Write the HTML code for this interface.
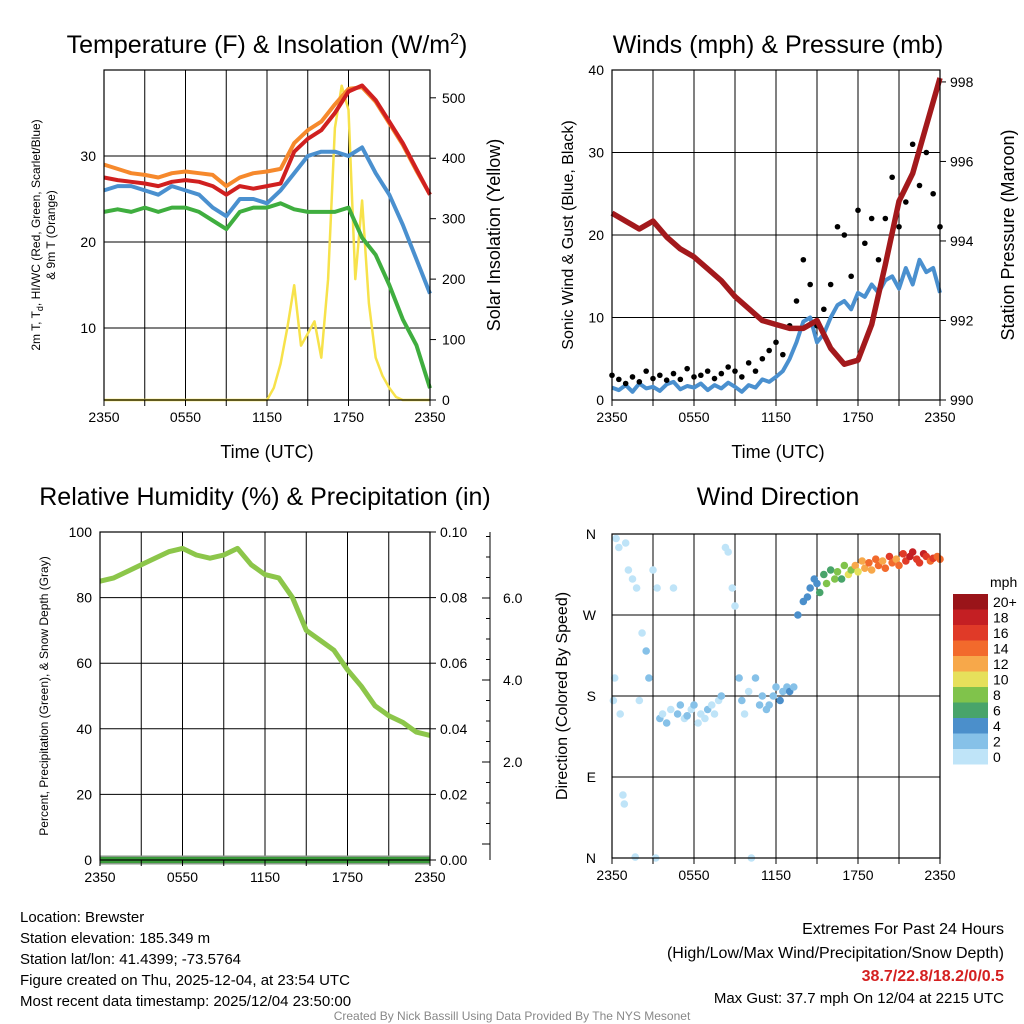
<!DOCTYPE html>
<html><head><meta charset="utf-8"><style>
body{margin:0;background:#fff;}
svg{display:block;font-family:"Liberation Sans",sans-serif;}
</style></head><body>
<svg id="c" width="1024" height="1024" viewBox="0 0 1024 1024"></svg>
<script>
// ---------- data ----------
const hours = [0,1,2,3,4,5,6,7,8,9,10,11,12,13,14,15,16,17,18,19,20,21,22,23,24];
const tempRed = [27.5,27.2,27,26.8,26.5,27,27.2,27,26.5,25.5,26.5,26.2,26.5,26.8,30.5,32,33,35,37.5,38.2,36.5,34,31.5,28.5,25.5];
const temp9m = [29,28.5,28,27.8,27.5,28,28.2,28,27.8,26.5,27.5,28,28.2,28.5,31.5,33,34,36,37.8,38,36.3,33.8,31.3,28.3,25.5];
const windChill = [26,26.5,26.5,26,25.5,26.5,26,25.5,24,23,25,25,24.5,26,28,30,30.5,30.5,30,31,28,25.5,22,18,14];
const dewpoint = [23.5,23.8,23.5,24,23.5,24,24,23.5,22.5,21.5,23.5,24,24,24.5,23.8,23.5,23.5,23.5,24,20.5,18.5,15,11,8,3];
const halfHours = Array.from({length:49},(_,i)=>i/2);
const insolation = [0,0,0,0,0,0,0,0,0,0,0,0,0,0,0,0,0,0,0,0,0,0,0,0,0,20,60,120,190,90,110,130,70,200,450,520,480,200,330,160,70,40,20,5,0,0,0,0,0];
const windSpeed = [1.5,1.2,1.8,1.0,2.0,1.4,1.6,1.1,1.9,2.2,1.3,1.7,1.5,2.0,1.2,1.8,1.4,2.1,1.6,1.0,1.8,1.5,2.5,2.2,2.8,3.5,5,7,9.5,10,7,8,10,11.5,12,11,13,12.5,14,13,14.5,15,13.5,16,14,17,15.5,16,13];
const windGust = [3,2.5,2,2.8,2.2,3.5,2.6,3,2.4,3.2,2.5,3.8,2.8,3,3.5,2.6,3.2,4,3.5,2.8,4.5,3.5,5,6,7,5.5,9,12,17,14,9,11,14,21,20,15,23,19,22,17,22,27,21,24,31,26,30,25,21];
const pressure = [994.7,994.5,994.3,994.5,994.1,993.8,993.6,993.3,993.0,992.6,992.3,992.0,991.9,991.8,991.8,992.0,991.3,990.9,991.0,991.9,993.4,995.0,995.7,996.9,998.1];
const rh = [85,86,88,90,92,94,95,93,92,93,95,90,87,86,80,70,67,64,58,53,47,44,42,39,38];
const precip = [0,0,0,0,0,0,0,0,0,0,0,0,0,0,0,0,0,0,0,0,0,0,0,0,0];
const dirTime = [0.1,0.2,0.3,0.5,0.6,0.8,0.9,1.0,1.2,1.5,1.7,1.8,2.0,2.2,2.5,2.7,3.0,3.2,3.3,3.5,3.7,4.0,4.3,4.5,4.8,5.0,5.3,5.5,5.8,6.0,6.3,6.5,6.8,7.0,7.3,7.5,7.8,8.0,8.3,8.5,8.8,9.0,9.3,9.5,9.7,10.0,10.2,10.5,10.8,11.0,11.3,11.5,11.8,12.0,12.3,12.5,12.8,13.0,13.3,13.6,14.0,14.3,14.5,14.8,15.0,15.2,15.5,15.7,16.0,16.3,16.5,16.8,17.0,17.3,17.5,17.8,18.0,18.3,18.5,18.8,19.0,19.3,19.5,19.8,20.0,20.3,20.5,20.8,21.0,21.3,21.5,21.8,22.0,22.3,22.5,22.8,23.0,23.3,23.5,23.8,24.0];
const dirDeg = [175,200,355,345,160,70,60,350,320,310,1,300,175,250,230,200,320,0,300,155,160,150,165,300,160,170,155,158,165,170,150,160,155,165,170,160,175,180,345,340,300,280,200,175,160,185,0,200,170,180,165,170,180,190,175,185,190,185,190,270,285,290,300,310,305,295,315,305,320,310,318,310,325,315,320,325,318,330,322,328,320,332,325,330,322,335,328,332,325,338,330,335,340,332,328,338,335,330,333,335,332];
const dirSpeed = [1,1,0.5,1,0.5,1,1,0.5,1,0.5,0.5,1,1,0.5,2,3,1,0.5,0.5,2,1,3,1,1,2,2,1,3,1,2,1,0.5,1,2,1,1,1,2,1,0.5,1,1,2,3,1,1,0.5,3,2,3,3,3,2,3,4,3,3,4,3,4,4,5,5,4,5,6,6,8,7,9,8,7,9,10,8,12,11,13,12,14,13,14,15,12,14,16,15,13,15,16,17,18,19,17,16,18,17,15,16,14,15];
const speedBins = ["0","2","4","6","8","10","12","14","16","18","20+"];
const binColors = ["#bfe4f8","#86c1e8","#4b8fcb","#48a46a","#80c34b","#e6e05b","#f7a84a","#f26a2c","#e03a28","#c41f23","#9a1419"];
const timeTicks = ["2350","0550","1150","1750","2350"];

const NS="http://www.w3.org/2000/svg";
const svg=document.getElementById('c');
function el(tag,attrs,parent){const e=document.createElementNS(NS,tag);for(const k in attrs)e.setAttribute(k,attrs[k]);(parent||svg).appendChild(e);return e;}
function txt(x,y,s,size,anchor,extra){const e=el('text',Object.assign({x:x,y:y,'font-size':size,'text-anchor':anchor||'middle',fill:'#000'},extra||{}));e.textContent=s;return e;}
function lin(d0,d1,p0,p1){return v=>p0+(v-d0)/(d1-d0)*(p1-p0);}
function pathFrom(xs,ys,fx,fy){return xs.map((t,i)=>(i?'L':'M')+fx(t).toFixed(1)+','+fy(ys[i]).toFixed(1)).join('');}

function frame(name,x0,y0,x1,y1){
  const g=el('g',{});
  
  
  for(let i=1;i<8;i++){const x=x0+(x1-x0)*i/8;el('line',{x1:x,y1:y0,x2:x,y2:y1,stroke:'#000','stroke-width':1},g);}
  return g;
}
function border(name,x0,y0,x1,y1){const r=el('rect',{x:x0,y:y0,width:x1-x0,height:y1-y0,fill:'none',stroke:'#000','stroke-width':1.2});}
function xaxis(x0,x1,yb){
  const fx=lin(0,24,x0,x1);
  timeTicks.forEach((s,i)=>{const t=txt(fx(i*6),yb+22,s,14);});
  for(let i=0;i<=8;i++){el('line',{x1:fx(i*3),y1:yb,x2:fx(i*3),y2:yb+6,stroke:'#000'});}
}

// ---------- Panel 1 ----------
(function(){
  const x0=104,x1=430,y0=70,y1=400;
  const fx=lin(0,24,x0,x1), fy=lin(0,40,414,70), fs=lin(0,546,400,70);
  frame('temperature',x0,y0,x1,y1);
  [10,20,30].forEach(v=>{el('line',{x1:x0,y1:fy(v),x2:x1,y2:fy(v),stroke:'#000'});const t=txt(x0-8,fy(v)+5,String(v),14,'end');});
  [0,100,200,300,400,500].forEach(v=>{el('line',{x1:x1,y1:fs(v),x2:x1+6,y2:fs(v),stroke:'#000'});const t=txt(x1+12,fs(v)+5,String(v),14,'start');});
  const series=[[insolation,'#f7e24a','insolation-line',halfHours,fs,2.5],[dewpoint,'#3fae3f','dewpoint-line',hours,fy,4],[windChill,'#4a90cf','windchill-line',hours,fy,4],[temp9m,'#f6892c','temp-9m-line',hours,fy,4],[tempRed,'#d02020','temp-2m-line',hours,fy,4]];
  series.forEach(s=>{const p=el('path',{d:pathFrom(s[3],s[0],fx,s[4]),fill:'none',stroke:s[1],'stroke-width':s[5],'stroke-linejoin':'round'});});
  border('temperature',x0,y0,x1,y1);
  xaxis(x0,x1,y1);
  let t=txt(267,53,'',25);
  t.innerHTML='Temperature (F) &amp; Insolation (W/m<tspan dy="-9" font-size="16">2</tspan><tspan dy="9">)</tspan>';
  t=txt(267,458,'Time (UTC)',18);
  t=txt(0,0,'',12,'middle',{transform:'translate(40,235) rotate(-90)'});
  t.innerHTML='2m T, T<tspan dy="3" font-size="9">d</tspan><tspan dy="-3">, HI/WC (Red, Green, Scarlet/Blue)</tspan>';
  t=txt(0,0,'& 9m T (Orange)',12,'middle',{transform:'translate(55,235) rotate(-90)'});
  t=txt(0,0,'Solar Insolation (Yellow)',18,'middle',{transform:'translate(500,235) rotate(-90)'});
})();

// ---------- Panel 2 ----------
(function(){
  const x0=612,x1=940,y0=70,y1=400;
  const fx=lin(0,24,x0,x1), fy=lin(0,40,400,70), fp=lin(990,998.3,400,70);
  frame('winds',x0,y0,x1,y1);
  [10,20,30].forEach(v=>el('line',{x1:x0,y1:fy(v),x2:x1,y2:fy(v),stroke:'#000'}));
  [0,10,20,30,40].forEach(v=>{const t=txt(x0-8,fy(v)+5,String(v),14,'end');});
  [990,992,994,996,998].forEach(v=>{el('line',{x1:x1,y1:fp(v),x2:x1+6,y2:fp(v),stroke:'#000'});const t=txt(x1+10,fp(v)+5,String(v),14,'start');});
  let p=el('path',{d:pathFrom(halfHours,windSpeed,fx,fy),fill:'none',stroke:'#4a90cf','stroke-width':4,'stroke-linejoin':'round'});
  
  
  halfHours.forEach((t,i)=>{const c=el('circle',{cx:fx(t),cy:fy(windGust[i]),r:2.8,fill:'#000'});
    
    });
  p=el('path',{d:pathFrom(hours,pressure,fx,fp),fill:'none',stroke:'#a3191c','stroke-width':5.5,'stroke-linejoin':'round'});
  
  
  border('winds',x0,y0,x1,y1);
  xaxis(x0,x1,y1);
  let t=txt(778,53,'Winds (mph) & Pressure (mb)',25);
  t=txt(778,458,'Time (UTC)',18);
  t=txt(0,0,'Sonic Wind & Gust (Blue, Black)',16,'middle',{transform:'translate(573,235) rotate(-90)'});
  t=txt(0,0,'Station Pressure (Maroon)',18,'middle',{transform:'translate(1014,235) rotate(-90)'});
})();

// ---------- Panel 3 ----------
(function(){
  const x0=100,x1=430,y0=532,y1=860;
  const fx=lin(0,24,x0,x1), fy=lin(0,100,860,532), fpr=lin(0,0.1,860,532), fsd=lin(0,2,844,762);
  frame('humidity',x0,y0,x1,y1);
  [20,40,60,80].forEach(v=>el('line',{x1:x0,y1:fy(v),x2:x1,y2:fy(v),stroke:'#000'}));
  [0,20,40,60,80,100].forEach(v=>{const t=txt(x0-8,fy(v)+5,String(v),14,'end');});
  [0,0.02,0.04,0.06,0.08,0.1].forEach(v=>{el('line',{x1:x1,y1:fpr(v),x2:x1+6,y2:fpr(v),stroke:'#000'});const t=txt(x1+10,fpr(v)+5,v.toFixed(2),14,'start');});
  el('line',{x1:490,y1:532,x2:490,y2:860,stroke:'#000'});
  for(let v=0;v<=7.5;v+=0.5){el('line',{x1:490,y1:fsd(v),x2:v%2===0?482:486,y2:fsd(v),stroke:'#000'});}
  [2,4,6].forEach(v=>{const t=txt(503,fsd(v)+5,v.toFixed(1),14,'start');});
  let p=el('path',{d:pathFrom(hours,rh,fx,fy),fill:'none',stroke:'#8cc64a','stroke-width':5,'stroke-linejoin':'round'});
  
  
  p=el('path',{d:pathFrom(hours,precip,fx,fpr),fill:'none',stroke:'#8a9a8a','stroke-width':9});
  
  
  p=el('path',{d:pathFrom(hours,precip,fx,fpr),fill:'none',stroke:'#3a9a3a','stroke-width':6});
  
  
  border('humidity',x0,y0,x1,y1);
  xaxis(x0,x1,y1);
  let t=txt(265,505,'Relative Humidity (%) & Precipitation (in)',25);
  t=txt(0,0,'Percent, Precipitation (Green), & Snow Depth (Gray)',12,'middle',{transform:'translate(48,696) rotate(-90)'});
})();

// ---------- Panel 4 ----------
(function(){
  const x0=612,x1=940,y0=534,y1=858;
  const fx=lin(0,24,x0,x1), fy=lin(0,360,858,534);
  frame('wind-direction',x0,y0,x1,y1);
  [90,180,270].forEach(v=>el('line',{x1:x0,y1:fy(v),x2:x1,y2:fy(v),stroke:'#000'}));
  ['N','E','S','W','N'].forEach((s,i)=>{const t=txt(x0-16,fy(i*90)+5,s,14,'end');});
  dirTime.forEach((t,i)=>{const b=Math.min(10,Math.floor(dirSpeed[i]/2));
    const c=el('circle',{cx:fx(t),cy:fy(dirDeg[i]),r:3.8,fill:binColors[b]});
    
    });
  border('wind-direction',x0,y0,x1,y1);
  xaxis(x0,x1,y1);
  let t=txt(778,505,'Wind Direction',25);
  t=txt(0,0,'Direction (Colored By Speed)',16,'middle',{transform:'translate(567,696) rotate(-90)'});
  t=txt(990,587,'mph',14,'start');
  const cb=el('g',{});
  
  
  const h=15.5;
  for(let i=0;i<11;i++){const y=594+(10-i)*h;el('rect',{x:953,y:y,width:35,height:h,fill:binColors[i]},cb);
    const l=txt(993,y+h/2+5,speedBins[i],14,'start');}
})();

// ---------- Footer ----------
["Location: Brewster","Station elevation: 185.349 m","Station lat/lon: 41.4399; -73.5764","Figure created on Thu, 2025-12-04, at 23:54 UTC","Most recent data timestamp: 2025/12/04 23:50:00"].forEach((s,i)=>{const t=txt(20,922+i*21,s,15,'start');});
let ft=txt(1004,934,'Extremes For Past 24 Hours',16,'end');
ft=txt(1004,958,'(High/Low/Max Wind/Precipitation/Snow Depth)',16,'end');
ft=txt(1004,981,'38.7/22.8/18.2/0/0.5',16,'end',{fill:'#d42020','font-weight':'bold'});
ft=txt(1004,1003,'Max Gust: 37.7 mph On 12/04 at 2215 UTC',15,'end');
ft=txt(512,1020,'Created By Nick Bassill Using Data Provided By The NYS Mesonet',12,'middle',{fill:'#888'});
</script>
</body></html>
